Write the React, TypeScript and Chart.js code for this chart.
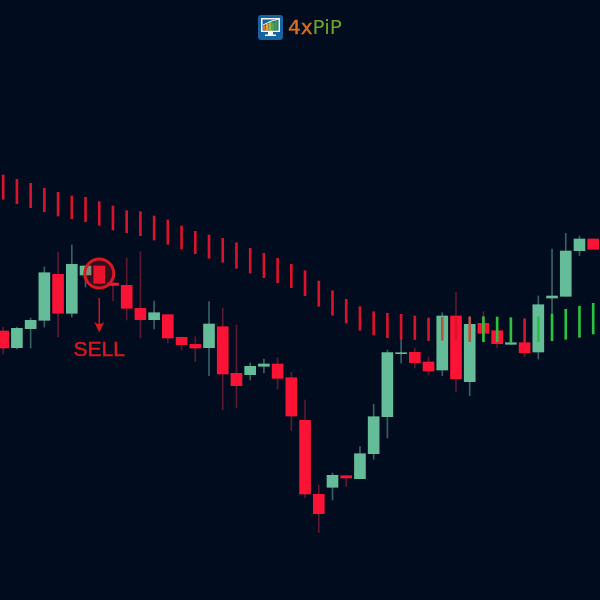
import React, { useEffect, useRef } from "react";
import { Chart, registerables } from "chart.js";

Chart.register(...registerables);

const open = [269, 252.3, 271.3, 279.7, 325.7, 286.7, 325, 334, 317, 314.7, 291.7, 280.3, 285.3, 262.7, 255.7, 252.3, 273.3, 226.7, 225.3, 233.7, 236, 222.3, 179.7, 105.7, 112.7, 124.3, 121.3, 146.3, 183.3, 246.3, 247.7, 238, 230, 284, 218.3, 276.7, 269.3, 255.7, 257.3, 248, 302, 303.7, 349.3, 361];
const close = [252, 271.7, 279.7, 327.3, 286.7, 335.7, 334, 316.7, 314.5, 291.7, 280.3, 287.3, 262, 255.3, 252, 276, 226, 214.3, 233.7, 236, 221.7, 184, 106, 86.3, 124.7, 122, 146.3, 183.3, 247.3, 247.3, 237.3, 229, 284, 221.3, 275.7, 266.7, 256.3, 257.3, 247.3, 295.3, 304, 349, 361, 350.7];
const high = [273, 273, 282, 333, 348, 355, 334, 334, 317, 342, 348.3, 299, 285.3, 263, 263.3, 298.3, 292, 275, 237, 241, 242.3, 227.7, 200, 115, 127, 124.3, 153.3, 195.7, 250, 262, 252, 243.3, 287.3, 307.7, 283.3, 288.3, 269.3, 257.3, 257.3, 304, 351, 366.7, 364, 361];
const low = [246, 251, 252, 273, 263, 283, 313, 316.7, 299, 280, 262, 271, 257, 250, 238.3, 224.3, 190, 192.3, 220, 227, 211, 169.3, 102, 67.3, 100, 113.3, 121.3, 140.7, 162, 237, 232, 225, 224.3, 208.3, 204.3, 258.3, 252.3, 255.7, 243.3, 241, 259.3, 303.7, 344.3, 350.7];

const signalHigh = [425, 420.7, 416.7, 411.7, 407.7, 404, 402.7, 398.3, 394, 389.3, 388.3, 384, 380, 374, 368.7, 365, 361.7, 357.3, 351.7, 346.7, 341.7, 335.7, 329.3, 319, 309.3, 300.7, 293.3, 288.3, 286.7, 285.7, 284, 282, 282.7, 283, 283, 283.3, 283, 282.3, 281.3, 283.3, 286, 290.7, 293.7, 296.7];
const signalLow = [400.7, 396.3, 392.3, 388.3, 384, 381.3, 378.3, 374.7, 370, 367.3, 364.3, 360, 355.7, 351, 346.3, 341.7, 337.7, 331.7, 327, 322.3, 317.3, 312.3, 304.3, 293.7, 284.7, 277, 269.7, 265, 262.3, 261, 260.5, 259.3, 259.7, 260, 258.3, 258.3, 258.3, 258, 257.3, 258.3, 259.3, 260.7, 262.7, 266];
const signalBullish = [35, 36, 37, 39, 40, 41, 42, 43];
const signalOverBody = [32, 34];

const sellIndex = 7;
const sellCircleLevel = 326.5;
const sellArrowTop = 302;
const sellArrowBottom = 268;
const sellLabelLevel = 250;
const sellLabel = "SELL";
const logoLeft = "4x";
const logoRight = "PiP";

const labels = open.map((_, i) => String(i));
const isUp = open.map((o, i) => close[i] >= o);

const BG = "#010c1e";
const UP = "#64bd98";
const DOWN = "#fb1335";
const UP_WICK = "#386064";
const DOWN_WICK = "#5e1830";
const SIGNAL_RED = "#d8132c";
const ANNOT = "#d9181f";

const overlay = {
  id: "overlay",
  afterDatasetsDraw(chart: any) {
    const { ctx, scales } = chart;
    const x = scales.x.getPixelForValue(sellIndex);
    const yc = scales.y.getPixelForValue(sellCircleLevel);
    const ya = scales.y.getPixelForValue(sellArrowTop);
    const yb = scales.y.getPixelForValue(sellArrowBottom);
    const yl = scales.y.getPixelForValue(sellLabelLevel);
    ctx.save();
    // circle marker
    ctx.beginPath();
    ctx.arc(x, yc, 14.5, 0, Math.PI * 2);
    ctx.fillStyle = "rgba(190,20,30,0.28)";
    ctx.fill();
    ctx.lineWidth = 3;
    ctx.strokeStyle = ANNOT;
    ctx.stroke();
    // arrow
    ctx.beginPath();
    ctx.moveTo(x, ya);
    ctx.lineTo(x, yb - 6);
    ctx.lineWidth = 1.4;
    ctx.stroke();
    ctx.beginPath();
    ctx.moveTo(x - 5, yb - 10);
    ctx.lineTo(x, yb + 0.5);
    ctx.lineTo(x + 5, yb - 10);
    ctx.quadraticCurveTo(x, yb - 6, x - 5, yb - 10);
    ctx.fillStyle = ANNOT;
    ctx.fill();
    // label
    ctx.font = '21px "Liberation Sans"';
    ctx.textAlign = "center";
    ctx.textBaseline = "middle";
    ctx.fillText(sellLabel, x, yl);
    ctx.lineWidth = 0.5;
    ctx.strokeText(sellLabel, x, yl);

    // logo icon
    ctx.beginPath();
    ctx.roundRect(258, 15, 25, 25, 3);
    ctx.fillStyle = "#17639f";
    ctx.fill();
    ctx.fillStyle = "#f2f6f8";
    ctx.fillRect(261, 18, 19, 14);
    ctx.fillRect(268, 32, 5, 3);
    ctx.fillRect(265, 34.5, 11, 1.5);
    ctx.fillStyle = "#17639f";
    ctx.fillRect(262.5, 19.5, 16, 11);
    const bars: [number, number, string][] = [
      [263, 5, "#e0752a"], [266, 7, "#e8a52d"], [269, 9, "#8fbf35"], [272, 8, "#5aa53a"], [275, 10, "#3f9a45"],
    ];
    bars.forEach(([bx, h, c]) => {
      ctx.fillStyle = c;
      ctx.fillRect(bx, 30.5 - h, 2.6, h);
    });
    ctx.beginPath();
    ctx.moveTo(263, 25);
    ctx.lineTo(270, 21.5);
    ctx.lineTo(279, 19);
    ctx.strokeStyle = "#f2f6f8";
    ctx.lineWidth = 1;
    ctx.stroke();

    // logo words
    ctx.textAlign = "left";
    ctx.textBaseline = "alphabetic";
    ctx.font = '20px "DejaVu Sans"';
    ctx.fillStyle = "#d96f22";
    ctx.fillText(logoLeft, 288, 33.5);
    ctx.strokeStyle = "#d96f22";
    ctx.lineWidth = 0.4;
    ctx.strokeText(logoLeft, 288, 33.5);
    const w = ctx.measureText(logoLeft).width;
    ctx.font = '20px "DejaVu Sans"';
    ctx.fillStyle = "#6ba52e";
    ctx.fillText(logoRight, 288 + w, 33.5);
    ctx.restore();
  },
};

export default function App() {
  const ref = useRef<HTMLCanvasElement>(null);
  useEffect(() => {
    const canvas = ref.current;
    if (!canvas) return;
    const chart = new Chart(canvas, {
      type: "bar",
      data: {
        labels,
        datasets: [
          {
            label: "Signal",
            data: signalLow.map((l, i) => [l, signalHigh[i]]),
            backgroundColor: signalLow.map((_, i) =>
              signalBullish.includes(i) ? "#2cc23f" : signalOverBody.includes(i) ? "#b4553e" : SIGNAL_RED
            ),
            barThickness: 2,
            order: 1,
            clip: false,
          },
          {
            label: "Body",
            data: open.map((o, i) => [Math.min(o, close[i]), Math.max(o, close[i])]),
            backgroundColor: isUp.map((u) => (u ? UP : DOWN)),
            barThickness: 11,
            order: 2,
            clip: false,
          },
          {
            label: "Wick",
            data: low.map((l, i) => [l, high[i]]),
            backgroundColor: isUp.map((u) => (u ? UP_WICK : DOWN_WICK)),
            barThickness: 1,
            order: 3,
            clip: false,
          },
        ],
      } as any,
      options: {
        responsive: false,
        animation: false,
        layout: { padding: { left: 3.2, right: 6.8, top: 0, bottom: 0 } },
        plugins: { legend: { display: false }, tooltip: { enabled: false }, title: { display: false } },
        datasets: { bar: { grouped: false, borderSkipped: false, borderWidth: 0 } },
        scales: {
          x: { type: "category", display: false, offset: false, grid: { display: false } },
          y: { type: "linear", display: false, min: 0, max: 600, grid: { display: false } },
        },
      } as any,
      plugins: [overlay],
    });
    return () => chart.destroy();
  }, []);
  return (
    <canvas
      ref={ref}
      width={600}
      height={600}
      style={{ position: "fixed", left: 0, top: 0, width: 600, height: 600, background: BG, display: "block" }}
    />
  );
}
